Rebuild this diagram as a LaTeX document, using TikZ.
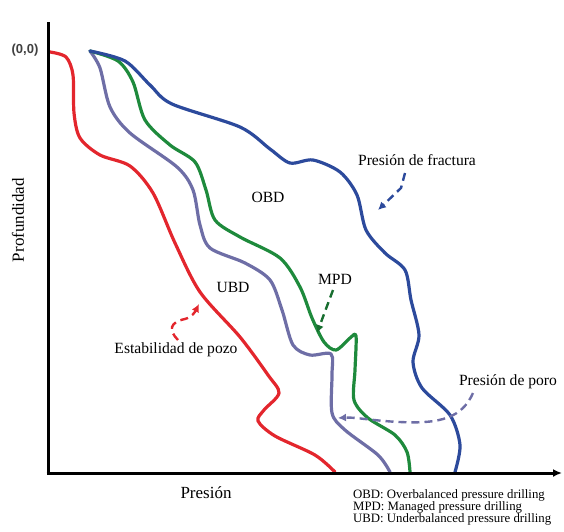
\documentclass[tikz,border=0pt]{standalone}
\usepackage{fontspec}
\setmainfont{Liberation Serif}
\newfontfamily\labelsans{Liberation Sans}
\usetikzlibrary{arrows.meta}
\definecolor{wellred}{HTML}{E3262D}
\definecolor{mpdgreen}{HTML}{1E8A3C}
\definecolor{fracblue}{HTML}{2C4A9C}
\definecolor{ubdpurple}{HTML}{6E6EA6}
\tikzset{
  curve/.style={line width=3.2pt, line cap=round, line join=round},
  hint/.style={line width=2.4pt, dash pattern=on 8pt off 5pt, -{Latex[length=8pt,width=8pt]}},
  axisline/.style={line width=3pt, black},
  lbl/.style={font=\fontsize{15.6}{18}\selectfont, inner sep=0pt},
  legend/.style={font=\fontsize{12.8}{14}\selectfont, inner sep=0pt, anchor=west}
}
\begin{document}
\begin{tikzpicture}[x=1pt,y=-1pt]
\useasboundingbox (0,0) rectangle (564,531);

% well stability limit
\draw[curve, wellred] plot[smooth, tension=0.5] coordinates {
  (50,52) (66,57) (73,75) (74,113) (80,138) (100,155) (130,166)
  (153,193) (175,243) (200,292) (240,337) (268,375) (279,393)
  (264,410) (258,421) (275,436) (315,455) (335,472)};

% underbalanced boundary
\draw[curve, ubdpurple] plot[smooth, tension=0.5] coordinates {
  (90,51) (100,68) (110,107) (130,133) (177,167) (193,190) (200,225)
  (210,248) (245,263) (270,280) (282,310) (293,345) (310,355) (331,354)
  (332,375) (332,413) (345,430) (378,455) (390,472)};

% managed pressure boundary
\draw[curve, mpdgreen] plot[smooth, tension=0.5] coordinates {
  (90,51) (118,61) (133,82) (145,120) (170,145) (195,162) (206,190)
  (215,220) (240,237) (280,258) (300,287) (312,318) (324,342) (336,350)
  (350,338) (356,336) (355,370) (354,400) (368,418) (395,435) (407,452)
  (410,472)};

% fracture pressure
\draw[curve, fracblue] plot[smooth, tension=0.5] coordinates {
  (90,51) (125,61) (150,85) (172,104) (240,127) (270,149) (290,163)
  (313,160) (340,172) (357,195) (366,230) (385,253) (405,270) (411,300)
  (419,335) (413,362) (422,388) (450,415) (460,445) (455,472)};

% axes
\coordinate (origin) at (48,473);
\coordinate (ytop) at (48,22);
\coordinate (xend) at (562,473);
\draw[axisline] (ytop) -- (origin);
\draw[axisline, -{Latex[length=9pt,width=8pt]}] (46.5,473) -- (xend);

% labels
\node[font=\labelsans\bfseries\fontsize{13}{15}\selectfont, text=black!75, inner sep=0pt] (zero) at (25,50) {(0,0)};
\node[lbl, font=\fontsize{17}{20}\selectfont, rotate=90] (ylab) at (18,220) {Profundidad};
\node[lbl, font=\fontsize{17}{20}\selectfont] (xlab) at (206,493) {Presión};
\node[lbl] (obd) at (268,197) {OBD};
\node[lbl] (mpd) at (335,279) {MPD};
\node[lbl] (ubd) at (233,287) {UBD};
\node[lbl] (frac) at (417,160) {Presión de fractura};
\node[lbl] (poro) at (508,382) {Presión de poro};
\node[lbl] (estab) at (176,350) {Estabilidad de pozo};

% legend
\node[legend] (l1) at (353,495) {OBD: Overbalanced pressure drilling};
\node[legend] (l2) at (353,507) {MPD: Managed pressure drilling};
\node[legend] (l3) at (353,519) {UBD: Underbalanced pressure drilling};

% pointer arrows
\coordinate (fracA) at (405,173);
\coordinate (fracB) at (378,210);
\draw[hint, fracblue] (fracA) -- (401,188) -- (fracB);

\coordinate (mpdA) at (333,290);
\coordinate (mpdB) at (317,333);
\draw[hint, mpdgreen!80!black] (mpdA) -- (mpdB);

\coordinate (estA) at (178,340);
\coordinate (estB) at (199,304);
\draw[hint, wellred] (estA) .. controls (168,330) and (170,322) .. (185,319)
  .. controls (192,317) and (195,312) .. (estB);

\coordinate (poroA) at (473,393);
\coordinate (poroB) at (338,418);
\draw[hint, ubdpurple] (poroA) .. controls (462,418) and (440,424) .. (400,422)
  .. controls (375,421) and (355,417) .. (poroB);
\end{tikzpicture}
\end{document}
